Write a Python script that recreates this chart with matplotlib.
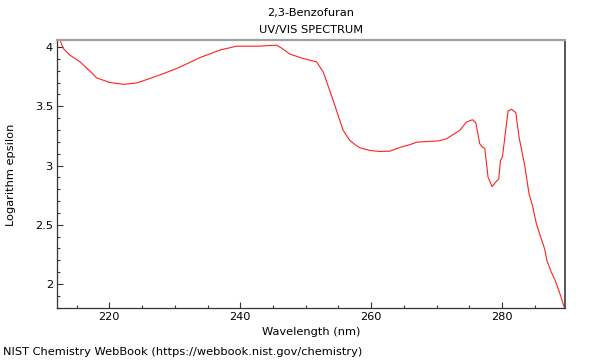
import matplotlib
matplotlib.use("Agg")
import matplotlib.pyplot as plt
from matplotlib.ticker import MultipleLocator, FuncFormatter

wavelength = [212.05, 212.46, 212.96, 213.98, 215.51, 217.04, 218.06, 220.09, 222.12,
              224.17, 226.20, 228.2, 230.27, 232.0, 233.83, 236.89, 239.44, 243.0,
              245.54, 246.35, 246.96, 247.57, 249.60, 251.65, 252.66, 254.18, 255.71,
              256.73, 257.5, 258.26, 259.8, 261.31, 262.84, 264.4, 266.0, 266.92,
              268.6, 270.47, 271.50, 273.53, 274.55, 275.47, 275.97, 276.58, 276.99,
              277.34, 277.85, 278.46, 278.98, 279.48, 279.74, 280.05, 280.66, 280.90,
              281.42, 282.08, 282.58, 283.45, 284.11, 284.63, 285.24, 285.74, 286.50,
              286.85, 287.53, 288.03, 288.69, 289.56]
log_eps = [4.059, 4.059, 3.989, 3.932, 3.875, 3.797, 3.740, 3.701, 3.686,
           3.697, 3.735, 3.775, 3.819, 3.863, 3.911, 3.975, 4.008, 4.008,
           4.017, 3.990, 3.966, 3.941, 3.904, 3.875, 3.791, 3.551, 3.297,
           3.212, 3.178, 3.150, 3.127, 3.119, 3.121, 3.153, 3.178, 3.197,
           3.203, 3.209, 3.226, 3.297, 3.367, 3.387, 3.362, 3.184, 3.155,
           3.147, 2.901, 2.822, 2.858, 2.887, 3.042, 3.076, 3.353, 3.460,
           3.475, 3.447, 3.240, 3.000, 2.760, 2.661, 2.506, 2.421, 2.294,
           2.195, 2.097, 2.040, 1.941, 1.790]

title = "2,3-Benzofuran"
subtitle = "UV/VIS SPECTRUM"
xlabel = "Wavelength (nm)"
ylabel = "Logarithm epsilon"
footer = "NIST Chemistry WebBook (https://webbook.nist.gov/chemistry)"

fs = 8.2
fig = plt.figure(figsize=(6, 3.6), dpi=100)
ax = fig.add_axes([57/600, 1-308/360, (565-57)/600, (308-40)/360])
ax.plot(wavelength, log_eps, color="#ff2020", lw=0.8)
ax.set_xlim(212.0, 289.6)
ax.set_ylim(1.797, 4.06)
ax.xaxis.set_major_locator(MultipleLocator(20))
ax.xaxis.set_minor_locator(MultipleLocator(5))
ax.yaxis.set_major_locator(MultipleLocator(0.5))
ax.yaxis.set_minor_locator(MultipleLocator(0.1))
ax.yaxis.set_major_formatter(FuncFormatter(lambda v, p: f"{v:g}"))
ax.tick_params(which="both", direction="in", labelsize=fs, length=4, width=0.8, color="#333333", pad=3)
ax.tick_params(which="minor", length=2.5)
ax.tick_params(axis="y", left=True, right=False)
ax.tick_params(axis="x", bottom=True, top=False)
ax.spines["top"].set_color("#a0a0a0")
ax.spines["top"].set_linewidth(1.6)
ax.spines["right"].set_color("#555555")
ax.spines["right"].set_linewidth(1.4)
ax.spines["left"].set_color("#333333")
ax.spines["left"].set_linewidth(0.9)
ax.spines["bottom"].set_color("#333333")
ax.spines["bottom"].set_linewidth(0.9)

fig.text(311/600, 1-13/360, title, ha="center", va="center", fontsize=fs)
fig.text(311/600, 1-30/360, subtitle, ha="center", va="center", fontsize=fs)
fig.text(311/600, 1-332/360, xlabel, ha="center", va="center", fontsize=fs)
fig.text(11/600, 1-175/360, ylabel, ha="center", va="center", rotation=90, fontsize=fs)
fig.text(3/600, 1-352/360, footer, ha="left", va="center", fontsize=fs)

fig.savefig("out.png", dpi=100)
